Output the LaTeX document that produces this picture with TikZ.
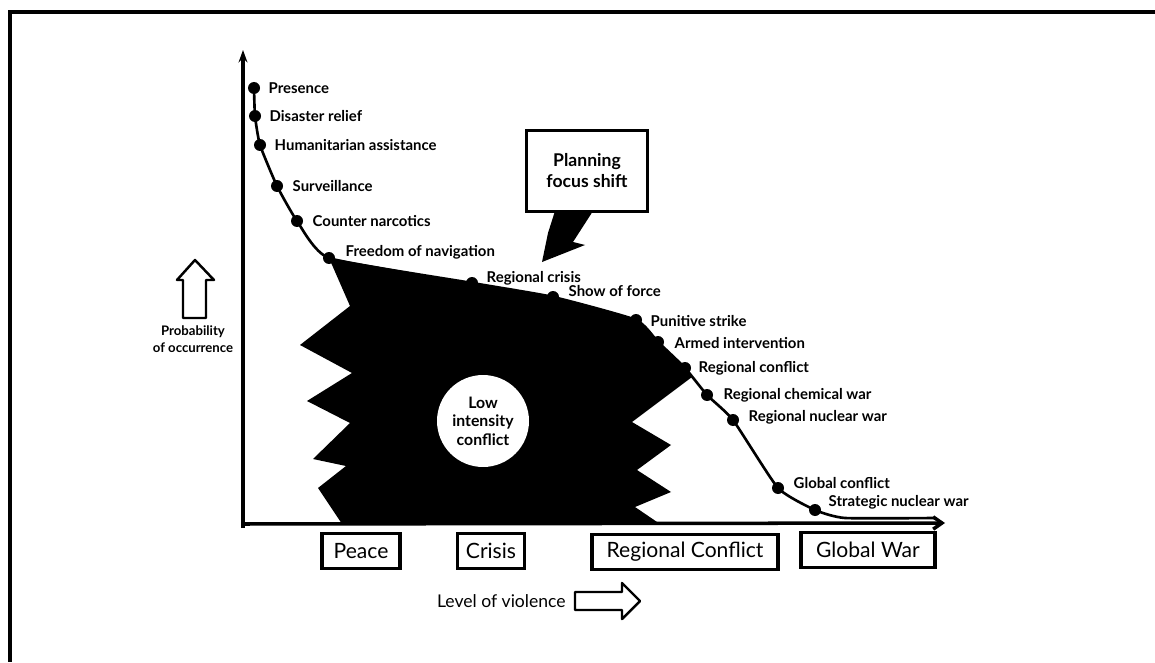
\documentclass[tikz,border=0pt]{standalone}
\usepackage{fontspec}
\setmainfont{Lato}
\usetikzlibrary{arrows.meta,positioning}

\begin{document}
\begin{tikzpicture}[x=0.02cm, y=-0.02cm,
  axisline/.style={line width=2pt},
  trend/.style={line width=1.5pt, line join=round},
  evdot/.style={circle, fill=black, inner sep=0pt, minimum size=0.24cm},
  evlabel/.style={font=\fontsize{8.5}{10}\selectfont\bfseries, inner sep=0pt},
  phase/.style={draw, line width=1.8pt, inner sep=0pt, minimum height=0.7cm, font=\fontsize{12}{14}\selectfont},
  hollow/.style={line width=1.4pt, line join=round}]

  \useasboundingbox (0,0) rectangle (1155,662);

  % Frame
  \draw[axisline] (1155,12) -- (10,12) -- (10,662);

  % Axes
  \coordinate (origin) at (243,528);
  \coordinate (ytip) at (243,50);
  \coordinate (xstart) at (241,524);
  \coordinate (xtip) at (945,523);
  \draw[axisline, -{Stealth[length=7pt, width=5pt]}] (origin) -- (ytip);
  \draw[axisline, -{Straight Barb[length=5pt, width=7pt]}] (xstart) -- (xtip);

  % Events along the curve
  \node[evdot] (presence) at (254,88) {};
  \node[evdot] (disaster) at (255,116) {};
  \node[evdot] (humanitarian) at (260,145) {};
  \node[evdot] (surveillance) at (277,186) {};
  \node[evdot] (narcotics) at (297,221) {};
  \node[evdot] (freedom) at (329,258) {};
  \node[evdot] (regcrisis) at (472,283) {};
  \node[evdot] (showforce) at (553,297) {};
  \node[evdot] (punitive) at (636,320) {};
  \node[evdot] (armed) at (658,342) {};
  \node[evdot] (regconflict) at (685,368) {};
  \node[evdot] (chemwar) at (707,395) {};
  \node[evdot] (nuclearwar) at (733,420) {};
  \node[evdot] (globalconflict) at (778,488) {};
  \node[evdot] (strategic) at (815,510) {};
  \coordinate (flat) at (845,518);
  \coordinate (curveend) at (935,518);

  % Low intensity conflict region
  \fill plot[smooth, tension=0.3] coordinates {(freedom.center) (regcrisis.center) (showforce.center) (punitive.center) (armed.center) (regconflict.center) (692,377)}
    -- (632,422) -- (671,445) -- (637,470) -- (671,492) -- (635,507) -- (660,524)
    -- (342,524) -- (318,488) -- (346,466) -- (313,459) -- (350,423) -- (307,401)
    -- (352,373) -- (300,345) -- (350,306) -- cycle;

  % Curve
  \draw[trend] plot[smooth, tension=0.3] coordinates {(presence.center) (disaster.center) (humanitarian.center) (surveillance.center) (narcotics.center) (freedom.center) (regcrisis.center) (showforce.center) (punitive.center) (armed.center) (regconflict.center) (chemwar.center) (nuclearwar.center) (globalconflict.center) (strategic.center) (flat) (curveend)};

  % Labels
  \node[evlabel, right=0.16cm of presence] (presence-l) {Presence};
  \node[evlabel, right=0.16cm of disaster] (disaster-l) {Disaster relief};
  \node[evlabel, right=0.16cm of humanitarian] (humanitarian-l) {Humanitarian assistance};
  \node[evlabel, right=0.18cm of surveillance] (surveillance-l) {Surveillance};
  \node[evlabel, right=0.18cm of narcotics] (narcotics-l) {Counter narcotics};
  \node[evlabel, right=0.2cm of freedom, yshift=0.12cm] (freedom-l) {Freedom of navigation};
  \node[evlabel, right=0.16cm of regcrisis, yshift=0.1cm] (regcrisis-l) {Regional crisis};
  \node[evlabel, right=0.18cm of showforce, yshift=0.12cm] (showforce-l) {Show of force};
  \node[evlabel, right=0.16cm of punitive, yshift=-0.02cm] (punitive-l) {Punitive strike};
  \node[evlabel, right=0.2cm of armed, yshift=-0.02cm] (armed-l) {Armed intervention};
  \node[evlabel, right=0.14cm of regconflict] (regconflict-l) {Regional conflict};
  \node[evlabel, right=0.2cm of chemwar] (chemwar-l) {Regional chemical war};
  \node[evlabel, right=0.18cm of nuclearwar, yshift=0.05cm] (nuclearwar-l) {Regional nuclear war};
  \node[evlabel, right=0.18cm of globalconflict, yshift=0.1cm] (globalconflict-l) {Global conflict};
  \node[evlabel, right=0.14cm of strategic, yshift=0.16cm] (strategic-l) {Strategic nuclear war};

  % Low intensity conflict
  \node[circle, fill=white, minimum size=1.84cm, inner sep=0pt, align=center,
    font=\fontsize{9}{10.5}\selectfont\bfseries] (lic) at (483,421) {Low\\intensity\\conflict};

  % Planning focus shift callout
  \node[draw, line width=2pt, minimum width=2.42cm, minimum height=1.62cm, align=center,
    font=\fontsize{10}{12}\selectfont\bfseries] (planbox) at (587,171) {Planning\\focus shift};
  \fill (555,211) -- (548,233) -- (542,262) -- (585,245) -- (573,242) -- (593,211) -- cycle;

  % Probability axis label
  \draw[hollow] (183,318) -- (183,280) -- (177,280) -- (195,260) -- (214,280) -- (206,280) -- (206,318) -- cycle;
  \node[align=center, font=\fontsize{7.5}{10}\selectfont\bfseries] (prob) at (193,339) {Probability\\of occurrence};

  % Phases
  \node[phase, minimum width=1.56cm] (peace) at (361,551) {Peace};
  \node[phase, minimum width=1.34cm] (crisis) at (491,551) {Crisis};
  \node[phase, minimum width=3.72cm] (regional) at (685,552) {Regional Conflict};
  \node[phase, minimum width=2.68cm] (global) at (868,550) {Global War};

  % Level of violence
  \node[font=\fontsize{10}{12}\selectfont, anchor=east, inner sep=0pt] (violence) at (566,601) {Level of violence};
  \draw[hollow] (575,592) -- (622,592) -- (622,583) -- (640,601) -- (622,619) -- (622,610) -- (575,610) -- cycle;

\end{tikzpicture}
\end{document}
